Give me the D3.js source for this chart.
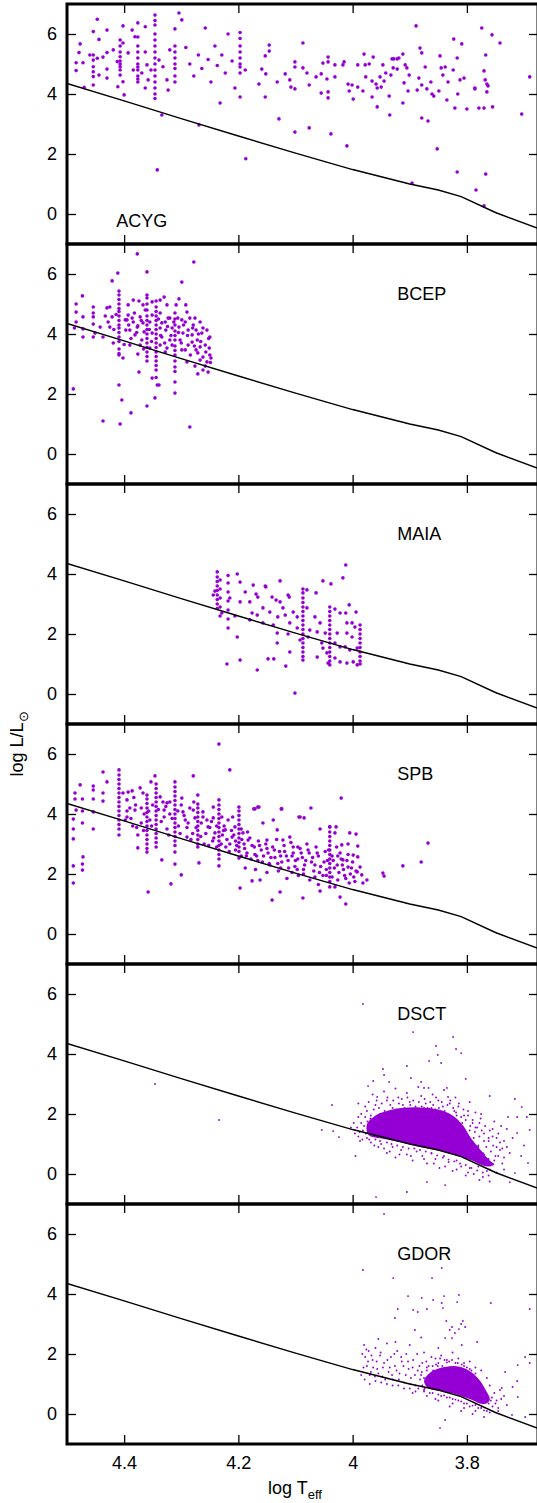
<!DOCTYPE html>
<html>
<head>
<meta charset="utf-8">
<script src="https://cdn.jsdelivr.net/npm/d3@7"></script>
<style>
  body { margin: 0; background: #fff; }
  text { font-family: "Liberation Sans", Arial, sans-serif; font-weight: normal; }
</style>
</head>
<body>
<svg id="chart" width="537" height="1503"></svg>
<script>
// classes, one panel each
var classes = ["ACYG", "BCEP", "MAIA", "SPB", "DSCT", "GDOR"];
var xTicks = [4.4, 4.2, 4, 3.8];
var yTicks = [0, 2, 4, 6];

// reference line (log Teff, log L)
var zamsT = [4.5, 4.4, 4.3, 4.2, 4.1, 4.0, 3.9, 3.85, 3.81, 3.75, 3.67];
var zamsL = [4.35, 3.77, 3.18, 2.6, 2.03, 1.48, 1.0, 0.8, 0.58, 0.05, -0.52];

// vertical stripes: [log Teff, [log L values]]
var acygStripes = [
  [4.454, [6.08, 5.3, 5.13, 4.91, 4.74, 4.58, 4.30]],
  [4.407, [5.80, 5.6, 5.4, 5.24, 5.1, 5.0, 4.91, 4.8, 4.63]],
  [4.376, [6.37, 5.9, 5.6, 5.4, 5.2, 5.0, 4.9, 4.8, 4.6, 4.5, 4.4]],
  [4.346, [6.63, 6.45, 6.3, 6.0, 5.8, 5.6, 5.4, 5.2, 5.0, 4.8, 4.6, 4.4, 4.2, 4.0, 3.85]],
  [4.311, [6.17, 5.6, 5.4, 5.2, 5.0, 4.85, 4.6, 4.4]],
  [4.197, [6.05, 5.85, 5.6, 5.4, 5.2, 5.0, 4.9, 4.7, 3.9]]
];
var acygPoints = [
  [4.477,5.67],[4.484,5.04],[4.484,4.78],[4.479,5.38],[4.472,5.04],[4.470,4.22],[4.460,5.30],
  [4.447,6.49],[4.444,5.82],[4.447,5.19],[4.444,4.63],[4.437,5.23],[4.430,6.13],[4.430,5.38],[4.430,4.83],
  [4.430,4.53],[4.419,5.47],[4.412,5.08],[4.411,4.24],[4.402,6.27],[4.402,5.70],[4.400,3.97],[4.402,4.41],
  [4.393,5.37],[4.386,6.13],[4.384,4.80],[4.381,5.91],[4.369,4.70],[4.363,6.24],[4.363,5.40],[4.360,4.97],
  [4.358,4.47],[4.363,4.20],[4.353,4.80],[4.342,1.47],[4.334,3.30],[4.339,5.13],[4.332,4.91],[4.325,4.47],
  [4.323,4.13],[4.320,5.47],[4.304,6.70],[4.299,6.47],[4.292,5.55],[4.285,5.0],[4.278,4.6],[4.270,5.3],
  [4.269,2.97],[4.264,4.85],[4.258,6.2],[4.253,5.15],[4.248,4.4],[4.241,5.6],[4.237,4.95],[4.232,3.7],
  [4.229,5.3],[4.223,4.7],[4.218,6.0],[4.211,5.1],[4.206,4.2],
  [4.188,4.80],[4.187,1.84],[4.164,4.33],[4.159,4.83],[4.153,5.27],[4.152,4.67],[4.153,3.90],[4.146,5.63],
  [4.146,5.43],[4.132,4.40],[4.129,3.17],[4.118,4.67],[4.110,4.47],[4.108,4.23],[4.101,5.07],[4.101,4.90],
  [4.101,4.17],[4.101,2.73],[4.087,5.70],[4.087,4.87],[4.080,4.70],[4.076,4.30],[4.076,2.87],[4.064,4.57],
  [4.055,4.67],[4.055,4.03],[4.052,5.03],[4.043,5.23],[4.043,5.07],[4.045,4.50],[4.043,4.07],[4.043,3.87],
  [4.038,2.67],[4.031,4.97],[4.031,4.57],[4.017,4.97],[4.015,5.07],[4.010,2.27],[4.008,4.33],[4.006,4.10],
  [4.001,4.30],[3.999,3.83],[3.991,4.97],[3.991,4.23],[3.982,4.10],[3.980,5.33],[3.978,4.97],[3.977,4.57],
  [3.971,5.00],[3.966,4.43],[3.966,3.90],[3.964,5.23],[3.959,4.33],[3.957,3.57],[3.957,4.20],[3.952,4.57],
  [3.950,4.23],[3.947,4.97],[3.945,4.43],[3.942,4.70],[3.936,3.93],[3.935,3.30],[3.933,4.63],[3.931,5.17],
  [3.929,4.87],[3.928,5.17],[3.922,4.83],[3.922,5.17],[3.919,5.20],[3.912,5.33],[3.912,3.70],[3.910,4.37],
  [3.908,4.97],[3.905,4.87],[3.903,4.10],[3.901,4.63],[3.896,1.03],[3.889,6.27],[3.887,4.13],[3.884,4.53],
  [3.882,5.53],[3.879,5.37],[3.879,4.30],[3.873,4.90],[3.879,3.20],[3.870,4.17],[3.868,3.10],[3.863,4.40],
  [3.861,4.00],[3.858,3.93],[3.852,2.17],[3.849,4.10],[3.847,5.27],[3.845,4.87],[3.842,4.63],[3.838,4.90],
  [3.835,3.80],[3.833,4.40],[3.824,4.80],[3.823,5.83],[3.821,3.53],[3.817,1.40],[3.817,5.20],[3.816,4.00],
  [3.812,4.47],[3.809,5.67],[3.805,4.53],[3.800,3.50],[3.786,4.17],[3.784,0.80],[3.779,3.53],[3.774,6.20],
  [3.770,3.53],[3.768,4.47],[3.767,5.30],[3.767,1.33],[3.770,0.27],[3.756,5.97],[3.742,5.70],[3.770,4.77],
  [3.765,4.33],[3.763,4.27],[3.765,4.07],[3.755,3.57],[3.690,4.57],[3.704,3.33],[3.786,4.20]
];

var bcepStripes = [
  [4.409, [5.43, 5.30, 5.15, 5.00, 4.85, 4.75, 4.60, 4.45, 4.30, 4.20, 4.05, 3.90, 3.75, 3.50, 3.35]],
  [4.360, [5.30, 5.20, 5.00, 4.80, 4.60, 4.45, 4.30, 4.15, 4.00, 3.85, 3.70, 3.55, 3.40, 3.25, 3.10]],
  [4.344, [5.10, 4.90, 4.75, 4.60, 4.45, 4.30, 4.15, 4.00, 3.85, 3.70, 3.55, 3.40, 3.25, 3.10, 2.95, 2.80, 2.55]],
  [4.311, [4.70, 4.50, 4.30, 4.10, 3.95, 3.80, 3.60, 3.45, 3.30, 3.10, 2.90, 2.75]]
];
var bcepPoints = [
  [4.377,6.67],[4.278,6.40],[4.411,6.03],[4.360,6.07],[4.421,5.77],[4.299,5.73],[4.473,5.27],
  [4.484,5.00],[4.484,4.73],[4.484,4.40],[4.487,4.20],[4.489,2.17],[4.472,4.17],[4.472,3.90],[4.472,4.57],
  [4.454,4.90],[4.454,4.70],[4.454,4.57],[4.454,4.33],[4.454,3.90],[4.451,4.03],[4.437,1.10],[4.442,4.23],
  [4.437,3.90],[4.433,4.60],[4.430,4.87],[4.425,4.90],[4.421,4.57],[4.425,4.23],[4.419,3.70],[4.409,3.30],
  [4.409,2.30],[4.407,1.00],[4.404,1.80],[4.402,3.20],[4.395,4.47],[4.393,4.63],[4.390,4.13],[4.388,1.37],
  [4.384,4.40],[4.381,3.97],[4.377,4.23],[4.376,3.33],[4.374,2.73],[4.374,5.10],[4.372,4.57],[4.369,3.80],
  [4.367,4.37],[4.363,4.80],[4.360,1.60],[4.351,5.07],[4.351,4.63],[4.351,4.03],[4.351,2.53],[4.346,1.87],
  [4.342,2.30],[4.339,2.30],[4.337,4.70],[4.334,4.37],[4.334,3.90],[4.330,5.23],[4.327,4.13],[4.325,3.53],
  [4.323,4.53],[4.320,3.80],[4.311,2.40],[4.311,2.03],[4.304,5.17],[4.304,4.23],[4.302,3.80],[4.299,4.47],
  [4.297,4.03],[4.293,3.47],[4.290,4.73],[4.290,3.07],[4.288,4.13],[4.285,0.90],[4.281,3.73],[4.279,4.30],
  [4.274,4.13],[4.272,3.80],[4.271,2.67],[4.271,3.37],[4.267,3.57],[4.264,4.03],[4.262,3.23],[4.262,2.80],
  [4.255,4.13],[4.255,3.07],[4.253,2.73],[4.250,3.90],[4.250,3.30],[4.248,3.20],
  [4.397,4.13],[4.386,4.53],[4.376,4.27],[4.365,4.07],[4.355,4.40],[4.337,4.20],[4.328,4.40],[4.320,4.53],
  [4.316,4.20],[4.306,4.53],[4.293,4.40],[4.285,4.53],[4.281,3.97],[4.276,4.53],[4.267,4.40],[4.258,3.63],
  [4.288,3.63],[4.299,3.47],[4.316,3.63],[4.328,3.40],[4.337,3.63],[4.355,3.53],[4.372,3.63],[4.390,3.63],
  [4.398,4.47],[4.393,4.97],[4.384,5.13],[4.367,4.97],[4.337,5.13],[4.325,4.97],[4.292,4.97],[4.309,4.97],
  [4.274,3.47],[4.267,3.13],[4.258,2.93],[4.251,3.53],[4.276,2.93],
  [4.428,4.4],[4.418,4.15],[4.414,4.65],[4.400,3.65],[4.392,4.3],[4.388,3.85],[4.382,4.7],[4.378,4.05],
  [4.370,4.45],[4.366,3.5],[4.356,4.15],[4.352,3.75],[4.340,4.5],[4.336,3.95],[4.329,3.7],[4.324,4.25],
  [4.318,3.95],[4.313,4.4],[4.305,4.05],[4.300,3.7],[4.296,4.3],[4.289,3.95],[4.284,3.3],[4.280,4.2],
  [4.277,3.6],[4.270,4.0],[4.266,3.75],[4.262,4.2],[4.257,3.4],[4.252,3.85],[4.249,3.05]
];

var maiaStripes = [
  [4.087, [3.37, 3.2, 3.05, 2.9, 2.75, 2.6, 2.45, 2.3, 2.15, 2.0, 1.85, 1.7, 1.55, 1.4, 1.25, 1.13]],
  [4.040, [2.9, 2.75, 2.6, 2.45, 2.3, 2.15, 2.0, 1.85, 1.7, 1.55, 1.4, 1.25, 1.1, 0.97]],
  [3.987, [2.3, 2.15, 2.0, 1.85, 1.7, 1.55, 1.4, 1.25, 1.1, 1.0]],
  [4.237, [4.07, 3.9, 3.75, 3.6, 3.45, 3.3, 3.15, 3.0, 2.85]],
  [4.232, [3.8, 3.5, 3.2, 2.9, 2.6]],
  [4.218, [3.95, 3.7, 3.4, 3.1, 2.8, 2.5, 2.2]]
];
var maiaPoints = [
  [4.012,4.30],[4.017,3.87],[4.052,3.77],[4.038,3.67],[4.127,3.77],[4.174,3.63],[4.153,3.60],[4.152,3.57],
  [4.169,3.33],[4.087,3.50],[4.080,3.47],[4.064,3.37],[4.113,3.30],[4.111,3.23],[4.166,3.23],[4.141,3.23],
  [4.134,3.13],[4.127,3.07],[4.006,2.97],[4.180,3.07],[4.157,2.87],[4.122,2.87],[4.104,2.73],[4.080,2.87],
  [4.031,2.83],[4.022,2.70],[4.012,2.70],[3.994,2.73],[4.176,2.70],[4.167,2.63],[4.145,2.73],[4.131,2.57],
  [4.118,2.63],[4.097,2.57],[4.066,2.57],[4.057,2.37],[4.010,2.37],[4.001,2.37],[3.996,2.23],[4.180,2.47],
  [4.157,2.37],[4.139,2.30],[4.110,2.37],[4.097,2.20],[4.075,2.13],[4.062,2.07],[4.048,2.03],[4.027,2.03],
  [4.010,2.03],[4.001,1.90],[4.132,2.03],[4.132,1.70],[4.113,2.00],[4.092,1.80],[4.078,1.90],[4.054,1.70],
  [4.031,1.70],[4.022,1.57],[4.013,1.57],[4.005,1.47],[3.992,1.53],[4.110,1.40],[4.052,1.53],[4.062,1.23],
  [4.045,1.37],[4.031,1.20],[4.022,1.07],[4.010,1.03],[3.999,1.07],[3.992,0.97],[4.043,1.03],[4.148,1.17],
  [4.138,1.17],[4.117,0.93],[4.167,0.80],[4.101,0.03],
  [4.241,3.43],[4.244,3.30],[4.202,4.0],[4.197,3.73],[4.188,3.40],[4.197,3.07],[4.202,1.90],[4.197,1.13],
  [4.220,1.00],[4.229,2.70],[4.215,3.2],[4.206,2.6]
];

var spbStripes = [
  [4.409, [5.47, 5.3, 5.15, 5.0, 4.85, 4.7, 4.55, 4.4, 4.25, 4.1, 3.95, 3.8, 3.65, 3.5, 3.3]],
  [4.360, [4.63, 4.5, 4.35, 4.2, 4.05, 3.9, 3.75, 3.6, 3.45, 3.3, 3.15, 3.0, 2.85, 2.73]],
  [4.344, [5.0, 4.85, 4.7, 4.55, 4.4, 4.25, 4.1, 3.95, 3.8, 3.65, 3.5, 3.35, 3.2, 3.05, 2.9]],
  [4.311, [5.07, 4.9, 4.75, 4.6, 4.45, 4.3, 4.15, 4.0, 3.85, 3.7, 3.55, 3.4, 3.25, 3.1, 2.95, 2.73]],
  [4.271, [4.33, 4.2, 4.05, 3.9, 3.75, 3.6, 3.45, 3.3, 3.15, 3.0, 2.9]],
  [4.234, [4.47, 4.3, 4.15, 4.0, 3.85, 3.7, 3.55, 3.4, 3.25, 3.1, 2.95, 2.8, 2.65, 2.5, 2.27]],
  [4.199, [4.23, 4.1, 3.95, 3.8, 3.65, 3.5, 3.35, 3.2, 3.05, 2.9, 2.75, 2.53]],
  [4.040, [3.57, 3.4, 3.25, 3.1, 2.95, 2.8, 2.65, 2.5, 2.35, 2.2, 2.05, 1.9, 1.75, 1.57]]
];
var spbPoints = [
  [4.234,6.33],[4.215,5.47],[4.437,5.40],[4.430,5.07],[4.477,4.97],[4.454,4.93],[4.454,4.80],[4.454,4.50],
  [4.486,4.70],[4.486,4.50],[4.473,4.50],[4.484,4.13],[4.473,4.10],[4.489,3.83],[4.473,3.70],[4.489,3.50],
  [4.489,3.17],[4.454,4.07],[4.454,3.50],[4.489,2.27],[4.489,1.70],[4.473,2.33],[4.473,2.13],[4.472,2.57],
  [4.437,4.70],[4.437,4.43],[4.402,4.70],[4.393,4.73],[4.386,4.77],[4.395,4.47],[4.390,4.20],[4.398,3.80],
  [4.381,4.13],[4.372,4.87],[4.367,4.70],[4.376,3.30],[4.376,2.87],[4.358,1.40],[4.353,5.07],[4.346,5.27],
  [4.337,4.57],[4.334,2.47],[4.332,4.40],[4.330,4.13],[4.325,4.37],[4.320,4.40],[4.318,1.67],[4.311,2.33],
  [4.300,1.97],[4.299,4.53],[4.297,4.07],[4.293,3.80],[4.290,3.23],[4.279,5.27],[4.279,4.13],[4.276,3.87],
  [4.271,4.63],[4.269,2.37],[4.262,4.07],[4.255,3.80],[4.253,3.57],[4.244,4.23],[4.244,3.87],[4.241,3.37],
  [4.229,3.90],[4.223,3.47],[4.218,3.80],[4.211,3.23],[4.206,3.57],[4.197,1.53],[4.192,3.37],[4.183,3.13],
  [4.176,1.77],[4.173,4.17],[4.166,4.23],[4.162,1.80],[4.157,3.70],[4.150,3.13],[4.141,1.13],[4.139,3.80],
  [4.132,3.47],[4.127,1.40],[4.125,4.17],[4.122,3.13],[4.110,3.23],[4.104,2.90],[4.096,2.90],[4.094,3.90],
  [4.020,4.53],[4.171,4.17],[4.164,4.23],[4.124,4.17],[4.073,4.20],[4.092,3.90],[4.085,3.87],[4.040,3.57],
  [4.029,3.57],[4.057,3.50],[4.005,3.37],[3.994,3.33],[4.031,3.37],[3.991,2.93],[4.008,3.00],[4.019,2.97],
  [4.022,2.70],[3.999,2.63],[3.991,2.57],[3.987,2.23],[3.982,1.70],[3.975,1.80],[3.984,1.97],[3.992,2.07],
  [4.008,2.23],[4.017,2.47],[4.027,2.30],[4.036,1.90],[4.031,1.57],[4.012,1.00],[4.022,1.23],[4.057,1.43],
  [4.087,1.20],[3.947,2.03],[3.945,1.93],[3.912,2.27],[3.880,2.40],[3.868,3.03],
  [4.190,3.0],[4.185,2.7],[4.180,3.2],[4.178,2.5],[4.172,2.9],[4.168,2.6],[4.165,3.1],[4.160,2.8],
  [4.158,2.4],[4.152,3.0],[4.148,2.7],[4.145,2.3],[4.140,2.9],[4.136,2.55],[4.133,3.15],[4.128,2.75],
  [4.124,2.4],[4.120,2.95],[4.116,2.6],[4.112,2.2],[4.108,3.05],[4.104,2.7],[4.100,2.45],[4.097,2.15],
  [4.092,2.85],[4.088,2.55],[4.084,2.3],[4.080,3.0],[4.076,2.7],[4.072,2.4],[4.068,2.1],[4.064,2.9],
  [4.060,2.6],[4.056,2.25],[4.052,1.95],[4.048,2.75],[4.044,2.45],[4.036,2.6],[4.032,2.2],[4.028,2.9],
  [4.024,2.05],[4.020,2.5],[4.016,2.15],[4.012,1.85],[4.008,2.65],[4.004,2.0],[4.000,2.4],[3.996,1.75],
  [3.994,2.1],[4.215,3.0],[4.225,3.6],[4.205,2.8],[4.210,3.9],[4.195,2.6],[4.188,2.2],[4.170,2.15],
  [4.150,2.05],[4.130,2.1],[4.115,1.85],[4.095,1.95],[4.075,1.8],[4.060,1.65],
  [4.395,3.9],[4.385,3.6],[4.380,4.3],[4.370,3.7],[4.365,4.0],[4.355,3.8],[4.350,4.3],[4.330,3.9],
  [4.325,3.5],[4.320,4.0],[4.305,3.6],[4.300,4.3],[4.290,3.55],[4.285,4.2],[4.280,3.35],[4.265,3.7],
  [4.260,3.0],[4.250,3.55],[4.245,3.1],[4.238,2.9],[4.228,3.3],[4.222,2.9],[4.212,3.45],[4.205,3.1],[4.195,3.5],
  [4.395,4.1],[4.388,3.85],[4.383,4.55],[4.378,3.55],[4.370,4.2],[4.366,3.45],[4.357,4.1],[4.352,3.6],
  [4.340,4.15],[4.335,3.75],[4.327,4.25],[4.322,3.3],[4.316,3.85],[4.306,4.1],[4.302,3.35],[4.295,3.95],
  [4.288,3.7],[4.283,3.15],[4.278,4.4],[4.274,3.55],[4.266,3.25],[4.262,3.9],[4.257,3.35],[4.252,2.95],
  [4.247,3.75],[4.243,3.2],[4.238,3.6],[4.230,3.0],[4.226,3.45],[4.220,3.15],[4.216,2.75],[4.208,3.3],
  [4.203,2.95],[4.194,3.15],[4.189,2.85],[4.184,3.4],[4.176,2.95],[4.171,2.65],[4.163,2.95],[4.156,2.6],
  [4.150,2.85],[4.143,2.55],[4.137,2.8],[4.131,2.35],[4.126,2.6],[4.119,2.75],[4.113,2.45],[4.106,2.6],
  [4.101,2.25],[4.096,2.5],[4.090,2.7],[4.086,2.15],[4.082,2.45],[4.078,2.8],[4.070,2.55],[4.066,2.3],
  [4.062,2.7],[4.058,2.05],[4.050,2.4],[4.046,2.15],[4.042,2.8],[4.034,2.45],[4.026,2.6],[4.018,2.3],
  [4.014,1.95],[4.010,2.45],[4.002,2.2],[3.998,1.9],[4.006,1.7],[4.026,1.8],[4.046,1.95],[4.066,1.9],
  [4.086,2.0],[4.106,2.05],[4.126,2.2],[4.146,2.35],[4.166,2.45],[4.186,2.6]
];

// dense cores outlined
var dsctCore = [
  [3.975,1.65],[3.960,1.95],[3.940,2.10],[3.915,2.20],[3.882,2.22],[3.850,2.15],[3.825,1.95],[3.806,1.60],
  [3.793,1.20],[3.776,0.80],[3.760,0.45],[3.752,0.32],[3.764,0.25],[3.794,0.47],[3.821,0.63],[3.847,0.77],
  [3.882,0.90],[3.917,1.07],[3.945,1.17],[3.972,1.30]
];
var dsctPoints = [
  [3.982,5.67],[3.894,4.73],[3.824,4.57],[3.854,4.27],[3.819,4.17],[3.810,4.03],[3.851,3.97],[3.866,3.77],
  [3.845,3.70],[3.905,3.60],[3.947,3.50],[3.945,3.30],[3.898,3.20],[3.964,3.10],[3.936,3.07],[3.880,3.07],
  [3.802,3.17],[3.875,2.87],[3.835,2.87],[3.867,2.87],[3.973,2.93],[3.760,2.60],[3.716,2.50],[3.833,2.57],
  [3.957,2.57],[3.704,2.23],[3.728,1.90],[3.695,1.90],[3.690,1.47],[3.712,1.37],[3.730,1.50],[3.742,0.80],
  [3.693,0.37],[3.716,0.03],[3.725,-0.27],[3.905,-0.60],[3.838,-0.37],[3.870,-0.27],[4.034,1.43],[4.024,1.23],
  [4.346,3.00],[4.234,1.80],[4.036,2.30],[4.054,1.47],[3.959,-0.77],
  [3.975,2.1],[3.960,2.3],[3.952,2.0],[3.940,2.45],[3.930,2.2],[3.920,2.55],[3.912,2.3],[3.900,2.4],
  [3.890,2.25],[3.880,2.6],[3.872,2.35],[3.862,2.2],[3.850,2.45],[3.842,2.25],[3.830,2.35],[3.822,2.1],
  [3.815,2.25],[3.805,1.95],[3.798,2.1],[3.790,1.8],[3.785,1.55],[3.778,1.7],[3.770,1.35],[3.762,1.1],
  [3.755,1.25],[3.748,0.9],[3.745,0.6],[3.752,0.45],[3.738,0.35],[3.735,0.15],[3.748,0.05],[3.760,0.15],
  [3.985,1.7],[3.988,1.4],[3.983,1.15],[3.978,1.9],[3.975,1.2],[3.970,1.5],[3.968,1.05],[3.962,0.95],
  [3.955,0.9],[3.950,1.0],[3.945,0.85],
  [3.940,0.7],[3.930,0.9],[3.925,0.55],[3.915,0.8],[3.905,0.65],[3.895,0.45],[3.888,0.75],[3.878,0.6],
  [3.870,0.35],[3.862,0.7],[3.855,0.5],[3.848,0.2],[3.840,0.6],[3.832,0.4],[3.825,0.1],[3.818,0.45],
  [3.810,0.25],[3.802,-0.05],[3.795,0.2],[3.788,0.0],[3.780,0.25],[3.772,-0.1],[3.765,0.1],[3.776,0.45],
  [3.785,0.6],[3.792,0.8],[3.800,1.0],[3.808,0.75],[3.815,1.1],[3.780,0.95],[3.772,0.7],[3.765,0.5],
  [3.995,0.6],[3.990,2.35],[3.965,2.65],[3.945,2.75],[3.925,2.85],[3.905,2.7],[3.885,2.9],[3.860,2.65],
  [3.840,2.8],[3.820,2.55],[3.795,2.4],[3.775,2.0],[3.740,1.6],[3.735,1.1],[3.725,0.7],[3.700,0.95],
  [3.712,1.9],[3.720,1.2],[3.705,0.6],
  [3.962,1.6],[3.955,1.8],[3.948,1.35],[3.935,2.0],[3.925,1.95],[3.900,2.15],[3.875,2.2],[3.855,2.15],
  [3.835,2.0],[3.818,1.95],[3.808,1.7],[3.795,1.45],[3.788,1.2],[3.780,0.9],[3.770,0.65],[3.762,0.5],[3.758,0.3],
  [3.978,2.25],[3.972,2.4],[3.968,1.95],[3.963,2.15],[3.958,2.45],[3.954,2.2],[3.949,2.35],[3.944,2.1],
  [3.939,2.55],[3.934,2.3],[3.929,2.45],[3.924,2.15],[3.919,2.35],[3.914,2.5],[3.909,2.2],[3.904,2.55],
  [3.899,2.3],[3.894,2.45],[3.889,2.15],[3.884,2.4],[3.879,2.25],[3.874,2.5],[3.869,2.2],[3.864,2.4],
  [3.859,2.3],[3.854,2.55],[3.849,2.2],[3.844,2.4],[3.839,2.1],[3.834,2.3],[3.829,2.45],[3.824,2.2],
  [3.819,2.05],[3.814,2.35],[3.810,1.9],[3.806,2.15],[3.802,1.8],[3.798,1.95],[3.794,1.6],[3.790,1.7],
  [3.786,1.4],[3.782,1.55],[3.778,1.25],[3.774,1.45],[3.770,1.1],[3.766,0.9],[3.762,1.2],[3.758,0.75],
  [3.754,0.95],[3.750,0.6],
  [3.990,1.9],[3.992,1.55],[3.990,1.25],[3.987,1.1],[3.985,2.0],[3.982,1.45],[3.980,1.6],[3.977,1.35],
  [3.974,1.75],[3.971,1.15],[3.969,1.85],[3.966,1.4],[3.998,1.7],[3.996,1.35],[4.003,1.55],
  [3.960,1.15],[3.952,1.1],[3.940,1.05],[3.932,1.0],[3.922,0.95],[3.912,0.9],[3.902,0.85],[3.892,0.85],
  [3.882,0.8],[3.872,0.75],[3.862,0.68],[3.852,0.62],[3.842,0.55],[3.832,0.48],[3.822,0.42],[3.812,0.35],
  [3.802,0.3],[3.792,0.2],[3.782,0.12],[3.772,0.05],[3.762,-0.05],[3.935,0.75],[3.918,0.65],[3.898,0.6],
  [3.875,0.5],[3.858,0.35],[3.838,0.25],[3.818,0.15],[3.798,0.05],[3.778,-0.2],[3.760,-0.25],
  [3.755,1.5],[3.748,1.2],[3.742,1.05],[3.738,0.85],[3.745,1.35],[3.735,0.55],[3.730,0.9],[3.752,1.75],
  [3.760,1.45],[3.768,1.6],[3.776,1.85],[3.785,2.05]
];

var gdorCore = [
  [3.865,1.37],[3.847,1.53],[3.821,1.60],[3.798,1.47],[3.781,1.20],[3.767,0.80],[3.760,0.47],[3.770,0.33],
  [3.795,0.50],[3.821,0.67],[3.847,0.77],[3.868,0.87],[3.875,1.10]
];
var gdorPoints = [
  [3.844,4.87],[3.861,4.53],[3.929,4.53],[3.903,3.93],[3.879,3.87],[3.859,3.80],[3.840,3.93],[3.814,3.97],
  [3.817,3.73],[3.844,3.70],[3.842,3.53],[3.870,3.50],[3.894,3.47],[3.886,3.40],[3.921,3.50],[3.926,3.20],
  [3.836,3.10],[3.807,3.10],[3.810,3.00],[3.803,2.90],[3.826,2.90],[3.814,2.83],[3.830,2.80],[3.891,2.80],
  [3.821,2.70],[3.826,2.53],[3.838,2.53],[3.782,2.40],[3.809,2.30],[3.698,1.90],[3.711,1.63],[3.690,3.50],
  [3.690,1.70],[3.758,3.70],[3.733,1.40],[3.739,0.87],[3.711,0.57],[3.721,-0.03],[3.698,-0.10],[3.838,-0.20],
  [3.847,-0.47],[3.982,4.80],[3.945,6.67],
  [3.980,2.3],[3.978,1.9],[3.975,1.6],[3.972,2.1],[3.968,1.4],[3.965,1.8],[3.960,2.2],[3.957,1.5],
  [3.952,1.95],[3.948,1.25],[3.945,1.7],[3.940,2.35],[3.937,1.4],[3.933,1.9],[3.930,1.15],[3.926,1.6],
  [3.922,2.1],[3.918,1.35],[3.914,1.75],[3.910,1.05],[3.906,2.0],[3.902,1.5],[3.898,1.2],[3.894,1.8],
  [3.890,0.95],[3.886,1.45],[3.882,1.15],[3.878,1.7],[3.874,0.85],[3.870,1.55],[3.866,1.25],[3.862,1.9],
  [3.858,0.95],[3.854,1.65],[3.985,1.3],[3.955,2.5],[3.925,2.4],[3.900,2.3],[3.875,2.05],[3.880,2.55],
  [3.850,2.2],[3.845,1.95],[3.835,1.8],[3.825,2.05],[3.815,1.85],[3.805,1.7],[3.795,1.75],[3.785,1.55],
  [3.775,1.45],[3.765,1.2],[3.760,0.95],[3.752,0.7],[3.748,0.45],[3.755,0.25],[3.765,0.1],[3.775,0.2],
  [3.785,0.3],[3.795,0.25],[3.805,0.35],[3.815,0.45],[3.825,0.5],[3.835,0.55],[3.845,0.6],[3.855,0.5],
  [3.865,0.7],[3.875,0.8],[3.890,0.75],[3.900,0.85],[3.920,0.95],[3.940,1.0],[3.960,1.1],[3.830,0.25],
  [3.810,0.1],[3.790,0.0],[3.770,-0.1],[3.745,0.2],[3.740,0.5],[3.730,0.3],[3.720,0.9],[3.712,1.1],
  [3.870,1.45],[3.860,1.6],[3.850,1.7],[3.835,1.72],[3.820,1.7],[3.805,1.6],[3.795,1.5],[3.785,1.35],
  [3.778,1.05],[3.772,0.85],[3.765,0.6],[3.758,0.45],[3.880,1.3],[3.878,0.95],
  [3.983,2.0],[3.981,1.55],[3.979,1.15],[3.976,2.15],[3.973,1.75],[3.970,1.3],[3.967,1.95],[3.964,1.55],
  [3.961,1.25],[3.958,1.75],[3.955,1.35],[3.951,2.05],[3.947,1.55],[3.943,1.15],[3.939,1.8],[3.935,1.55],
  [3.931,1.3],[3.927,2.0],[3.923,1.45],[3.919,1.15],[3.915,1.9],[3.911,1.6],[3.907,1.3],[3.903,1.75],
  [3.899,1.0],[3.895,1.55],[3.891,1.3],[3.887,2.0],[3.883,1.6],[3.879,1.4],[3.875,1.2],[3.871,1.75],
  [3.867,1.6],[3.863,1.1],[3.859,1.45],[3.855,1.85],[3.851,1.6],[3.847,1.85],[3.843,1.6],[3.839,1.8],
  [3.831,1.75],[3.826,1.8],[3.816,1.7],[3.809,1.65],[3.800,1.55],[3.792,1.45],[3.786,1.2],[3.780,1.0],
  [3.776,0.8],[3.772,0.6],[3.762,0.35],[3.756,0.55],[3.750,0.35],[3.745,0.1],[3.742,0.8],[3.735,0.6],
  [3.885,0.85],[3.875,0.75],[3.860,0.7],[3.850,0.65],[3.840,0.62],[3.830,0.55],[3.820,0.48],[3.810,0.42],
  [3.800,0.35],[3.790,0.28],[3.780,0.2],[3.770,0.12],[3.760,0.05],[3.870,0.6],[3.850,0.45],[3.825,0.35],
  [3.805,0.2],[3.785,0.1],[3.895,0.7],[3.910,0.85],[3.930,0.95],[3.950,1.05],[3.970,1.0]
];

var purple = "#9400d3";
var plotLeft = 67, plotRight = 538, plotTop = 4, panelH = 240;

function unstripe(stripes) {
  var out = [];
  stripes.forEach(function(s) {
    s[1].forEach(function(v) { out.push([s[0], v]); });
  });
  return out;
}

var panelData = [
  { pts: acygPoints.concat(unstripe(acygStripes)), r: 1.8 },
  { pts: bcepPoints.concat(unstripe(bcepStripes)), r: 1.8 },
  { pts: maiaPoints.concat(unstripe(maiaStripes)), r: 1.8 },
  { pts: spbPoints.concat(unstripe(spbStripes)), r: 1.8 },
  { pts: dsctPoints, r: 0.95, core: dsctCore },
  { pts: gdorPoints, r: 0.95, core: gdorCore }
];
// label anchor, in data units
var labelPos = [[4.414, -0.42], [3.922, 5.13], [3.922, 5.13], [3.922, 5.13], [3.922, 5.13], [3.922, 5.13]];

var svg = d3.select("#chart");
var x = d3.scaleLinear().domain([4.5, 3.6755]).range([plotLeft, plotRight]);
var y = d3.scaleLinear().domain([-1, 7]).range([panelH, 0]);

svg.append("defs").append("clipPath").attr("id", "clip")
  .append("rect").attr("x", plotLeft).attr("y", 0).attr("width", plotRight - plotLeft).attr("height", panelH);

var zams = zamsT.map(function(t, i) { return [t, zamsL[i]]; });
var line = d3.line().x(function(d) { return x(d[0]); }).y(function(d) { return y(d[1]); });

classes.forEach(function(name, i) {
  var g = svg.append("g").attr("transform", "translate(0," + (plotTop + i * panelH) + ")");
  var plot = g.append("g").attr("clip-path", "url(#clip)");

  var pd = panelData[i];
  if (pd.core) {
    plot.append("path")
      .attr("d", d3.line().curve(d3.curveCatmullRomClosed)
        .x(function(d) { return x(d[0]); }).y(function(d) { return y(d[1]); })(pd.core))
      .attr("fill", purple);
  }
  plot.selectAll("circle").data(pd.pts).enter().append("circle")
    .attr("cx", function(d) { return x(d[0]); })
    .attr("cy", function(d) { return y(d[1]); })
    .attr("r", pd.r)
    .attr("fill", purple);

  plot.append("path").attr("d", line(zams))
    .attr("fill", "none").attr("stroke", "#000").attr("stroke-width", 1.5);

  g.append("text")
    .attr("x", x(labelPos[i][0])).attr("y", y(labelPos[i][1]))
    .attr("font-size", 18).attr("fill", "#000")
    .text(name);

  // ticks on all four sides, pointing inwards
  var ax = [
    g.append("g").attr("transform", "translate(" + plotLeft + ",0)")
      .call(d3.axisLeft(y).tickValues(yTicks).tickSize(-9).tickPadding(10).tickFormat(d3.format("d"))),
    g.append("g").attr("transform", "translate(" + plotRight + ",0)")
      .call(d3.axisRight(y).tickValues(yTicks).tickSize(-9).tickFormat("")),
    g.append("g").attr("transform", "translate(0,0)")
      .call(d3.axisTop(x).tickValues(xTicks).tickSize(-9).tickFormat("")),
    g.append("g").attr("transform", "translate(0," + panelH + ")")
      .call(d3.axisBottom(x).tickValues(xTicks).tickSize(-9).tickPadding(12)
        .tickFormat(i === classes.length - 1 ? d3.format("") : ""))
  ];
  ax.forEach(function(a) {
    a.attr("font-family", null).attr("font-size", null);
    a.select(".domain").remove();
    a.selectAll("line").attr("stroke", "#000").attr("stroke-width", 1.3);
    a.selectAll("text").attr("font-size", 18).attr("fill", "#000")
      .attr("font-weight", "normal");
  });

  g.append("rect").attr("x", plotLeft).attr("y", 0)
    .attr("width", plotRight - plotLeft).attr("height", panelH)
    .attr("fill", "none").attr("stroke", "#000").attr("stroke-width", 3);
});

// axis titles
var xt = svg.append("text").attr("x", 295).attr("y", 1494)
  .attr("text-anchor", "middle").attr("font-size", 18);
xt.append("tspan").text("log T");
xt.append("tspan").attr("dy", 5).attr("font-size", 13).text("eff");

var yt = svg.append("text")
  .attr("transform", "translate(23,744) rotate(-90)")
  .attr("text-anchor", "middle").attr("font-size", 18);
yt.append("tspan").text("log L/L");
yt.append("tspan").attr("dy", 5).attr("font-size", 13).text("\u2299");
</script>
</body>
</html>
